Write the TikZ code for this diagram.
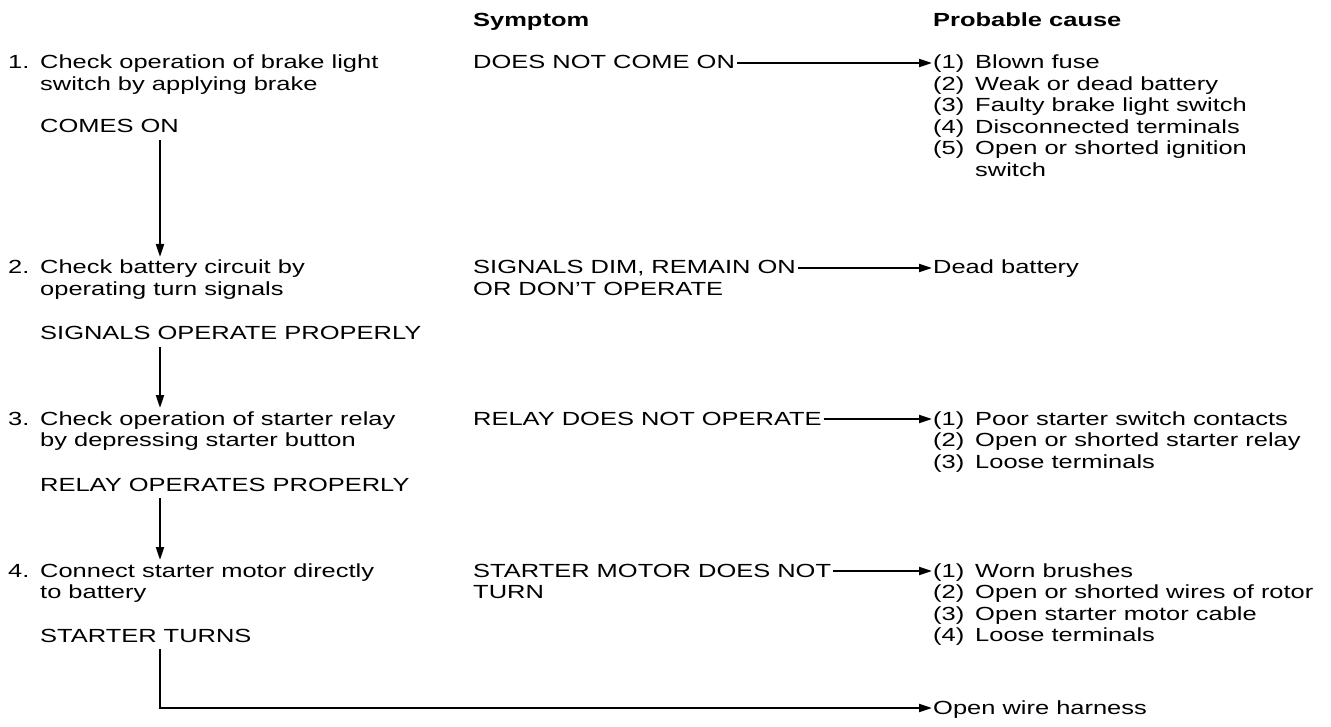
\documentclass[tikz,border=0pt]{standalone}
\usepackage{fontspec}
\setmainfont{Liberation Sans}[FakeStretch=1.34]
\usepackage{tikz}
\usetikzlibrary{arrows.meta, positioning}

\begin{document}
\begin{tikzpicture}[
    x=1pt, y=-1pt,
    txt/.style={
        anchor=base west,
        inner sep=0pt,
        font=\fontsize{19}{21.5}\selectfont
    },
    head/.style={txt, font=\fontsize{19}{21.5}\selectfont\bfseries},
    arrow/.style={-{Triangle[length=13pt, width=8pt]}, line width=2pt}
]
\useasboundingbox (0,0) rectangle (1331,727);

\node[head] (hsym) at (473,27) {Symptom};
\node[head] (hcause) at (933,27) {Probable cause};

% checks on the left
\node[txt] (chk1) at (8,69) {\begin{tabular}[t]{@{}p{32pt}@{}l@{}}
    1. & Check operation of brake light\\
       & switch by applying brake\end{tabular}};
\node[txt] (ok1) at (40,133) {COMES ON};
\node[txt] (chk2) at (8,274) {\begin{tabular}[t]{@{}p{32pt}@{}l@{}}
    2. & Check battery circuit by\\
       & operating turn signals\end{tabular}};
\node[txt] (ok2) at (40,340) {SIGNALS OPERATE PROPERLY};
\node[txt] (chk3) at (8,425) {\begin{tabular}[t]{@{}p{32pt}@{}l@{}}
    3. & Check operation of starter relay\\
       & by depressing starter button\end{tabular}};
\node[txt] (ok3) at (40,491) {RELAY OPERATES PROPERLY};
\node[txt] (chk4) at (8,577) {\begin{tabular}[t]{@{}p{32pt}@{}l@{}}
    4. & Connect starter motor directly\\
       & to battery\end{tabular}};
\node[txt] (ok4) at (40,642) {STARTER TURNS};

% symptoms
\node[txt] (sym1) at (473,69) {DOES NOT COME ON};
\node[txt] (sym2) at (473,274) {\begin{tabular}[t]{@{}l@{}}
    SIGNALS DIM, REMAIN ON\\ OR DON'T OPERATE\end{tabular}};
\node[txt] (sym3) at (473,425) {RELAY DOES NOT OPERATE};
\node[txt] (sym4) at (473,577) {\begin{tabular}[t]{@{}l@{}}
    STARTER MOTOR DOES NOT\\ TURN\end{tabular}};

% probable causes
\node[txt] (cause1) at (933,69) {\begin{tabular}[t]{@{}p{42pt}@{}l@{}}
    (1) & Blown fuse\\
    (2) & Weak or dead battery\\
    (3) & Faulty brake light switch\\
    (4) & Disconnected terminals\\
    (5) & Open or shorted ignition\\
        & switch\end{tabular}};
\node[txt] (cause2) at (933,274) {Dead battery};
\node[txt] (cause3) at (933,425) {\begin{tabular}[t]{@{}p{42pt}@{}l@{}}
    (1) & Poor starter switch contacts\\
    (2) & Open or shorted starter relay\\
    (3) & Loose terminals\end{tabular}};
\node[txt] (cause4) at (933,577) {\begin{tabular}[t]{@{}p{42pt}@{}l@{}}
    (1) & Worn brushes\\
    (2) & Open or shorted wires of rotor\\
    (3) & Open starter motor cable\\
    (4) & Loose terminals\end{tabular}};
\node[txt] (harness) at (933,714) {Open wire harness};

% down the checks
\draw[arrow] ([xshift=120pt, yshift=-7pt]ok1.base west) -- ([xshift=152pt, yshift=17pt]chk2.base west);
\draw[arrow] ([xshift=120pt, yshift=-7pt]ok2.base west) -- ([xshift=152pt, yshift=17pt]chk3.base west);
\draw[arrow] ([xshift=120pt, yshift=-7pt]ok3.base west) -- ([xshift=152pt, yshift=17pt]chk4.base west);
\draw[arrow] ([xshift=120pt, yshift=-7pt]ok4.base west) |- ([xshift=-1pt, yshift=6pt]harness.base west);

% symptom to cause
\draw[arrow] ([xshift=2pt, yshift=6pt]sym1.base east) -- ([xshift=-1pt, yshift=6pt]cause1.base west);
\draw[arrow] ([xshift=2pt, yshift=6pt]sym2.base east) -- ([xshift=-1pt, yshift=6pt]cause2.base west);
\draw[arrow] ([xshift=2pt, yshift=6pt]sym3.base east) -- ([xshift=-1pt, yshift=6pt]cause3.base west);
\draw[arrow] ([xshift=2pt, yshift=6pt]sym4.base east) -- ([xshift=-1pt, yshift=6pt]cause4.base west);

\end{tikzpicture}
\end{document}
